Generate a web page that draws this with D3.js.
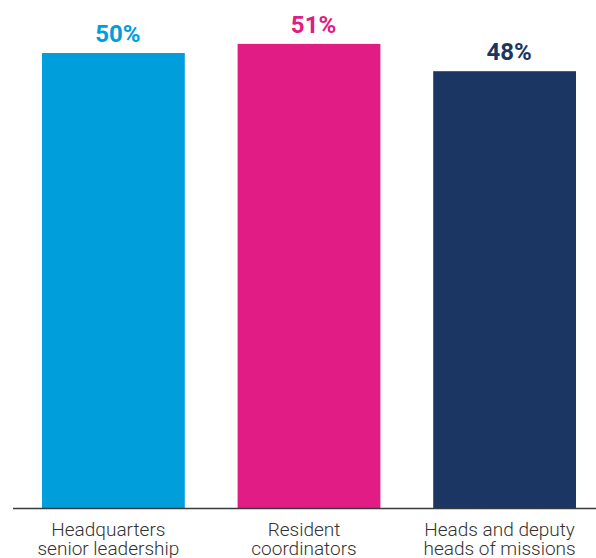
<!DOCTYPE html>
<html><head><meta charset="utf-8">
<script src="https://cdn.jsdelivr.net/npm/d3@7"></script>
<style>html,body{margin:0;padding:0;background:#fff;}svg{display:block;}</style>
</head><body>
<svg id="chart" width="596" height="558"></svg>
<script>
const categories = [["Headquarters","senior leadership"],["Resident","coordinators"],["Heads and deputy","heads of missions"]];
const values = [50, 51, 48];
const colors = ["#009EDB", "#E11C84", "#1C3664"];
const valueLabels = ["50%", "51%", "48%"];

const svg = d3.select("#chart");
const baseline = 508;
const x = d3.scaleBand().domain(d3.range(values.length)).range([42, 576]).paddingInner(0.27).paddingOuter(0);
const y = d3.scaleLinear().domain([0, 50]).range([baseline, 53]);

svg.selectAll("rect.bar").data(values).join("rect").attr("class","bar")
  .attr("x", (d,i)=>x(i)).attr("width", x.bandwidth())
  .attr("y", d=>y(d)).attr("height", d=>baseline - y(d))
  .attr("fill", (d,i)=>colors[i]);

svg.selectAll("text.val").data(values).join("text").attr("class","val")
  .attr("x", (d,i)=>x(i)+x.bandwidth()/2+4.5).attr("y", d=>y(d)-11)
  .attr("text-anchor","middle").attr("font-family","Roboto").attr("font-weight","700")
  .attr("font-size","24px").attr("fill",(d,i)=>colors[i]).text((d,i)=>valueLabels[i]);

svg.append("line").attr("x1",13).attr("x2",596).attr("y1",baseline+0.5).attr("y2",baseline+0.5)
  .attr("stroke","#3a3a3a").attr("stroke-width",1.5);

const cat = svg.selectAll("text.cat").data(categories).join("text").attr("class","cat")
  .attr("text-anchor","middle").attr("font-family","Roboto").attr("font-weight","300")
  .attr("font-size","19px").attr("fill","#333");
cat.each(function(d,i){
  const t = d3.select(this);
  d.forEach((line,j)=>{
    t.append("tspan").attr("x", x(i)+x.bandwidth()/2-5).attr("y", 536 + j*19).text(line);
  });
});
</script>
</body></html>
